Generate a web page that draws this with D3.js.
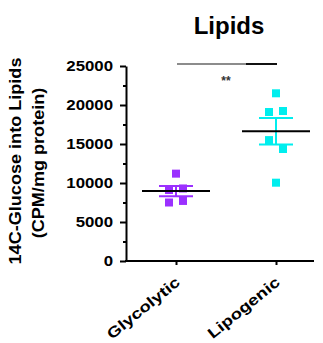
<!DOCTYPE html>
<html>
<head>
<meta charset="utf-8">
<script src="https://cdn.jsdelivr.net/npm/d3@7"></script>
<style>
  body { margin: 0; background: #fff; }
</style>
</head>
<body>
<svg id="chart" width="323" height="343"></svg>
<script>
// data
const categories = ["Glycolytic", "Lipogenic"];
const glycolytic = [11200, 9100, 9300, 7500, 7700];
const lipogenic = [21500, 19100, 19230, 15500, 14360, 10040];
const yTicks = [0, 5000, 10000, 15000, 20000, 25000];
const yMinor = [2500, 7500, 12500, 17500, 22500];
const colors = ["#9b30ff", "#00eeee"];

const svg = d3.select("#chart");
const fontFamily = "'Liberation Sans', Arial, sans-serif";
const stretch = 1.2; // the figure's text is a bit wider than the font

const plot = {left: 126, right: 314, top: 66, bottom: 261};

const y = d3.scaleLinear()
  .domain([0, 25000])
  .range([plot.bottom, plot.top]);

const x = d3.scalePoint()
  .domain(categories)
  .range([plot.left, plot.left + 200])
  .padding(0.5);

const groups = [glycolytic, lipogenic].map((values, i) => ({
  name: categories[i],
  values: values,
  color: colors[i],
  mean: d3.mean(values),
  sem: d3.deviation(values) / Math.sqrt(values.length)
}));

// widen text to match the figure
function widen(sel, k) {
  sel.each(function() {
    const len = this.getComputedTextLength();
    d3.select(this)
      .attr("textLength", len * k)
      .attr("lengthAdjust", "spacingAndGlyphs");
  });
}

// title
svg.append("text")
  .attr("x", 229)
  .attr("y", 34)
  .attr("text-anchor", "middle")
  .attr("font-family", fontFamily)
  .attr("font-weight", "bold")
  .attr("font-size", 24)
  .text("Lipids");

// y axis title, two lines
const yTitle = [["14C-Glucose into Lipids", 21, 161], ["(CPM/mg protein)", 44, 163]];
yTitle.forEach(([t, tx, ty]) => {
  svg.append("text")
    .attr("transform", `translate(${tx},${ty}) rotate(-90)`)
    .attr("text-anchor", "middle")
    .attr("font-family", fontFamily)
    .attr("font-weight", "bold")
    .attr("font-size", 16)
    .text(t)
    .call(widen, 1.13);
});

// minor ticks
svg.append("g")
  .attr("transform", `translate(${plot.left},0)`)
  .call(d3.axisLeft(y).tickValues(yMinor).tickSize(3).tickFormat(""))
  .call(g => g.select(".domain").remove())
  .call(g => g.selectAll("line").attr("stroke-width", 2));

// y axis
svg.append("g")
  .attr("transform", `translate(${plot.left},0)`)
  .call(d3.axisLeft(y).tickValues(yTicks).tickSize(6).tickSizeOuter(0).tickPadding(7).tickFormat(d3.format("d")))
  .call(g => g.select(".domain").attr("stroke-width", 2))
  .call(g => g.selectAll(".tick line").attr("stroke-width", 2))
  .call(g => g.selectAll(".tick text")
    .attr("font-family", fontFamily)
    .attr("font-weight", "bold")
    .attr("font-size", 14)
    .attr("fill", "#000")
    .call(widen, stretch));

// x axis
svg.append("g")
  .attr("transform", `translate(0,${plot.bottom})`)
  .call(d3.axisBottom(x).tickSize(4).tickSizeOuter(0).tickFormat(""))
  .call(g => g.select(".domain")
    .attr("d", `M${plot.left - 1},0H${plot.right}`)
    .attr("stroke-width", 2))
  .call(g => g.selectAll(".tick line").attr("stroke-width", 2));

// x labels, slanted
svg.append("g")
  .selectAll("text")
  .data(categories)
  .join("text")
  .attr("transform", d => `translate(${x(d) + 5},${plot.bottom + 23}) rotate(-39)`)
  .attr("text-anchor", "end")
  .attr("font-family", fontFamily)
  .attr("font-weight", "bold")
  .attr("font-size", 15)
  .text(d => d)
  .call(widen, 1.24);

// spread points that sit at almost the same height
function rowOffsets(values) {
  const rows = [];
  values.forEach((v, i) => {
    const last = rows[rows.length - 1];
    if (last && Math.abs(y(v) - y(values[last[0]])) <= 12) last.push(i);
    else rows.push([i]);
  });
  const off = [];
  rows.forEach(r => r.forEach((idx, k) => { off[idx] = (k - (r.length - 1) / 2) * 14; }));
  return off;
}

const sq = 8;
groups.forEach(g => {
  const cx = x(g.name);
  const off = rowOffsets(g.values);
  const gg = svg.append("g");

  gg.selectAll("rect")
    .data(g.values)
    .join("rect")
    .attr("x", (d, i) => cx + off[i] - sq / 2)
    .attr("y", d => y(d) - sq / 2)
    .attr("width", sq)
    .attr("height", sq)
    .attr("fill", g.color);

  // sem bars
  const hi = y(g.mean + g.sem), lo = y(g.mean - g.sem);
  gg.append("line")
    .attr("x1", cx).attr("x2", cx)
    .attr("y1", hi).attr("y2", lo)
    .attr("stroke", g.color).attr("stroke-width", 2);
  [hi, lo].forEach(v => {
    gg.append("line")
      .attr("x1", cx - 17).attr("x2", cx + 17)
      .attr("y1", v).attr("y2", v)
      .attr("stroke", g.color).attr("stroke-width", 2);
  });

  // mean
  gg.append("line")
    .attr("x1", cx - 34).attr("x2", cx + 34)
    .attr("y1", y(g.mean)).attr("y2", y(g.mean))
    .attr("stroke", "#000").attr("stroke-width", 2);
});

// significance bar
const x0 = x(categories[0]) + 1, x1 = x(categories[1]) + 1;
const xs = x0 + (x1 - x0) * 0.69;
svg.append("line")
  .attr("x1", x0).attr("x2", xs).attr("y1", 64).attr("y2", 64)
  .attr("stroke", "#8c8c8c").attr("stroke-width", 2);
svg.append("line")
  .attr("x1", xs).attr("x2", x1).attr("y1", 64).attr("y2", 64)
  .attr("stroke", "#111").attr("stroke-width", 2);
svg.append("text")
  .attr("x", (x0 + x1) / 2 - 1)
  .attr("y", 85)
  .attr("text-anchor", "middle")
  .attr("font-family", fontFamily)
  .attr("font-weight", "bold")
  .attr("font-size", 12)
  .attr("fill", "#333")
  .text("**");
</script>
</body>
</html>
